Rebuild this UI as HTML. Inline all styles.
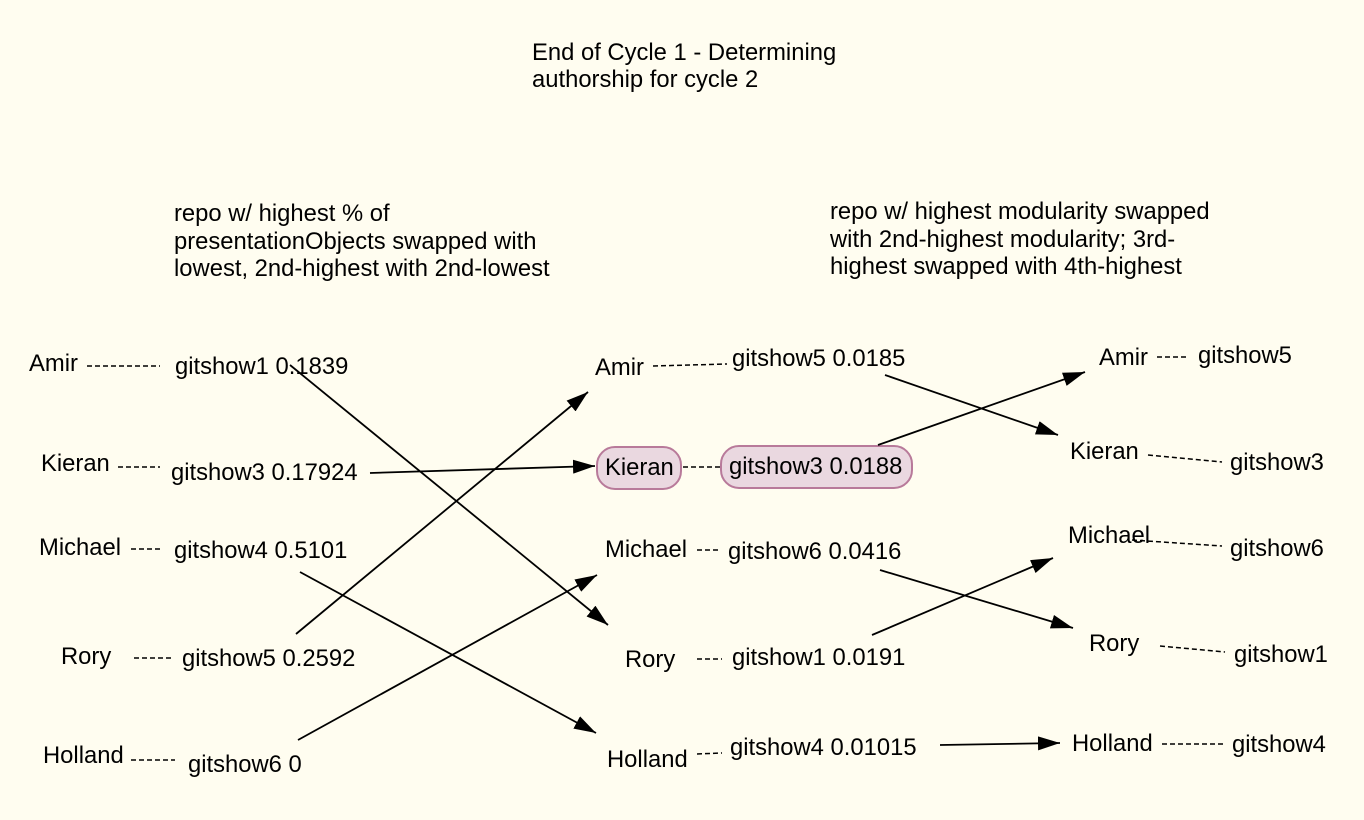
<!DOCTYPE html>
<html><head><style>
html,body{margin:0;padding:0;background:#fffdf0;}
svg{display:block;}
text{font-family:"Liberation Sans",Arial,sans-serif;font-size:23.8px;fill:#000;}
</style></head><body>
<svg width="1364" height="820" viewBox="0 0 1364 820" xmlns="http://www.w3.org/2000/svg">
<defs>
<marker id="a" markerWidth="22" markerHeight="14" refX="22" refY="7" orient="auto" markerUnits="userSpaceOnUse">
<path d="M0,0 L22,7 L0,14 Z" fill="#000"/>
</marker>
</defs>
<rect width="1364" height="820" fill="#fffdf0"/>
<text x="532" y="60">End of Cycle 1 - Determining</text>
<text x="532" y="87">authorship for cycle 2</text>
<text x="174" y="221">repo w/ highest % of</text>
<text x="174" y="249">presentationObjects swapped with</text>
<text x="174" y="276">lowest, 2nd-highest with 2nd-lowest</text>
<text x="830" y="219">repo w/ highest modularity swapped</text>
<text x="830" y="247">with 2nd-highest modularity; 3rd-</text>
<text x="830" y="274">highest swapped with 4th-highest</text>

<rect x="597" y="447" width="84" height="42" rx="18" fill="#ead8e0" stroke="#b87a9a" stroke-width="2"/>
<rect x="721" y="446" width="191" height="42" rx="18" fill="#ead8e0" stroke="#b87a9a" stroke-width="2"/>

<g>
<text x="29" y="371">Amir</text>
<text x="41" y="471">Kieran</text>
<text x="39" y="555">Michael</text>
<text x="61" y="664">Rory</text>
<text x="43" y="763">Holland</text>
<text x="175" y="374">gitshow1 0.1839</text>
<text x="171" y="480">gitshow3 0.17924</text>
<text x="174" y="558">gitshow4 0.5101</text>
<text x="182" y="666">gitshow5 0.2592</text>
<text x="188" y="772">gitshow6 0</text>
<text x="595" y="375">Amir</text>
<text x="605" y="475">Kieran</text>
<text x="605" y="557">Michael</text>
<text x="625" y="667">Rory</text>
<text x="607" y="767">Holland</text>
<text x="732" y="366">gitshow5 0.0185</text>
<text x="729" y="474">gitshow3 0.0188</text>
<text x="728" y="559">gitshow6 0.0416</text>
<text x="732" y="665">gitshow1 0.0191</text>
<text x="730" y="755">gitshow4 0.01015</text>
<text x="1099" y="365">Amir</text>
<text x="1070" y="459">Kieran</text>
<text x="1068" y="543">Michael</text>
<text x="1089" y="651">Rory</text>
<text x="1072" y="751">Holland</text>
<text x="1198" y="363">gitshow5</text>
<text x="1230" y="470">gitshow3</text>
<text x="1230" y="556">gitshow6</text>
<text x="1234" y="662">gitshow1</text>
<text x="1232" y="752">gitshow4</text>
</g>

<g stroke="#000" stroke-width="1.5" stroke-dasharray="5,3" fill="none">
<line x1="87" y1="366" x2="160" y2="366"/>
<line x1="118" y1="467" x2="160" y2="467"/>
<line x1="131" y1="549" x2="162" y2="549"/>
<line x1="134" y1="658" x2="172" y2="658"/>
<line x1="131" y1="760" x2="175" y2="760"/>
<line x1="653" y1="366" x2="727" y2="364"/>
<line x1="683" y1="467" x2="720" y2="467"/>
<line x1="697" y1="550" x2="720" y2="550"/>
<line x1="697" y1="659" x2="722" y2="659"/>
<line x1="697" y1="754" x2="722" y2="753"/>
<line x1="1157" y1="357" x2="1188" y2="357"/>
<line x1="1148" y1="455" x2="1222" y2="462"/>
<line x1="1132" y1="540" x2="1222" y2="546"/>
<line x1="1160" y1="646" x2="1225" y2="652"/>
<line x1="1162" y1="744" x2="1224" y2="744"/>
</g>

<g stroke="#000" stroke-width="1.8" fill="none" marker-end="url(#a)">
<line x1="290" y1="365" x2="608" y2="625"/>
<line x1="370" y1="473" x2="595" y2="466"/>
<line x1="300" y1="572" x2="596" y2="733"/>
<line x1="296" y1="634" x2="588" y2="392"/>
<line x1="298" y1="740" x2="597" y2="575"/>
<line x1="885" y1="375" x2="1058" y2="435"/>
<line x1="878" y1="445" x2="1085" y2="372"/>
<line x1="880" y1="570" x2="1073" y2="628"/>
<line x1="872" y1="635" x2="1053" y2="558"/>
<line x1="940" y1="745" x2="1060" y2="743"/>
</g>
</svg>
</body></html>
